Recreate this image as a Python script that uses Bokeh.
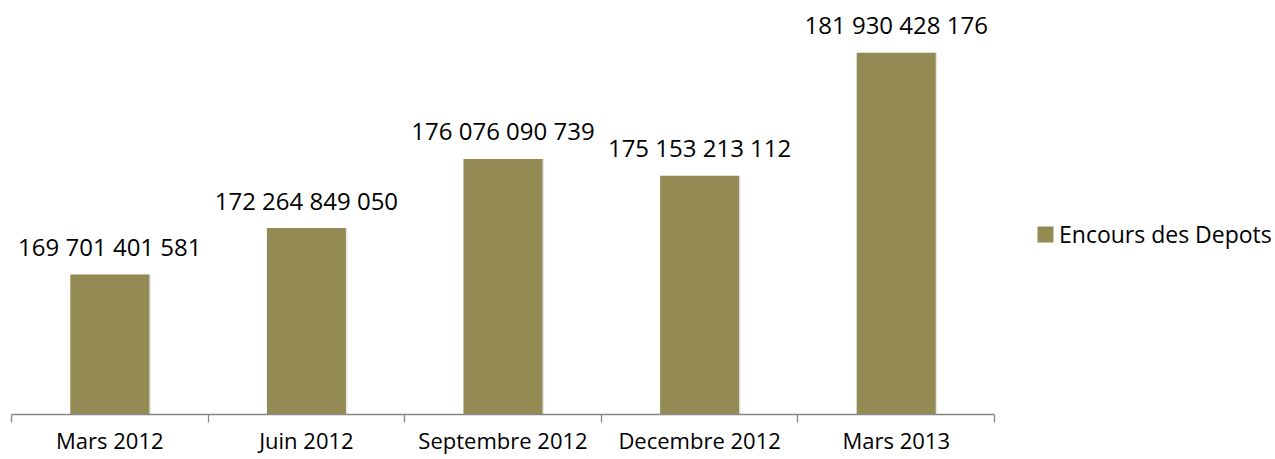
from bokeh.plotting import figure
from bokeh.models import Range1d, FixedTicker, Legend, LegendItem, LinearAxis
from bokeh.core.properties import value
from bokeh.embed import file_html
from bokeh.resources import INLINE

categories = ["Mars 2012", "Juin 2012", "Septembre 2012", "Decembre 2012", "Mars 2013"]
encours = [169701401581, 172264849050, 176076090739, 175153213112, 181930428176]
series_name = "Encours des Depots"
y_base = 162e9

value_labels = [f"{v:,}".replace(",", " ") for v in encours]

FONT = "Open Sans"
BAR = "#948A54"
AXIS = "#868686"

# layout (pixels)
W, H = 1275, 459
px_per_cat = 196.6
left_px = 11
base_px = 413.5
px_per_unit = 18.12e-9

n = len(categories)
centers = [i + 0.5 for i in range(n)]
bounds = list(range(n + 1))

y_start = y_base - (H - base_px) / px_per_unit
y_end = y_base + base_px / px_per_unit

p = figure(width=W, height=H,
           x_range=Range1d(-left_px / px_per_cat, (W - left_px) / px_per_cat),
           y_range=Range1d(y_start, y_end),
           x_axis_type=None, y_axis_type=None,
           output_backend="svg", toolbar_location=None,
           min_border_left=0, min_border_right=0, min_border_top=0, min_border_bottom=0)
p.outline_line_color = None
p.background_fill_color = "white"

# subtle shadow
p.vbar(x=[c + 0.008 for c in centers], top=encours, bottom=y_base, width=0.402,
       fill_color="#000000", fill_alpha=0.10, line_color=None)
bars = p.vbar(x=centers, top=encours, bottom=y_base, width=0.402,
              fill_color=BAR, line_color=None)

p.text(x=centers, y=encours, text=value_labels, text_align="center",
       text_baseline="alphabetic", y_offset=-28,
       text_font=value(FONT), text_font_size="24px", text_color="black")

xaxis = LinearAxis(bounds=(0, n), fixed_location=y_base,
                   ticker=FixedTicker(ticks=centers, minor_ticks=bounds),
                   major_label_overrides={c: cat for c, cat in zip(centers, categories)})
xaxis.axis_line_color = AXIS
xaxis.axis_line_width = 1.3
xaxis.major_tick_line_color = None
xaxis.major_tick_out = 0
xaxis.major_tick_in = 0
xaxis.minor_tick_line_color = AXIS
xaxis.minor_tick_line_width = 1.3
xaxis.minor_tick_out = 8
xaxis.minor_tick_in = 0
xaxis.major_label_standoff = 3
xaxis.major_label_text_font = FONT
xaxis.major_label_text_font_size = "22px"
xaxis.major_label_text_color = "black"
p.add_layout(xaxis, "below")

legend = Legend(items=[LegendItem(label=series_name, renderers=[bars])],
                location=(1035, 209))
legend.padding = 0
legend.margin = 0
legend.spacing = 0
legend.glyph_width = 20
legend.glyph_height = 20
legend.label_height = 20
legend.label_standoff = 4
legend.border_line_color = None
legend.background_fill_alpha = 0
legend.label_text_font = FONT
legend.label_text_font_size = "23px"
legend.label_text_color = "black"
p.add_layout(legend)

open("out.html", "w").write(file_html(p, INLINE))
